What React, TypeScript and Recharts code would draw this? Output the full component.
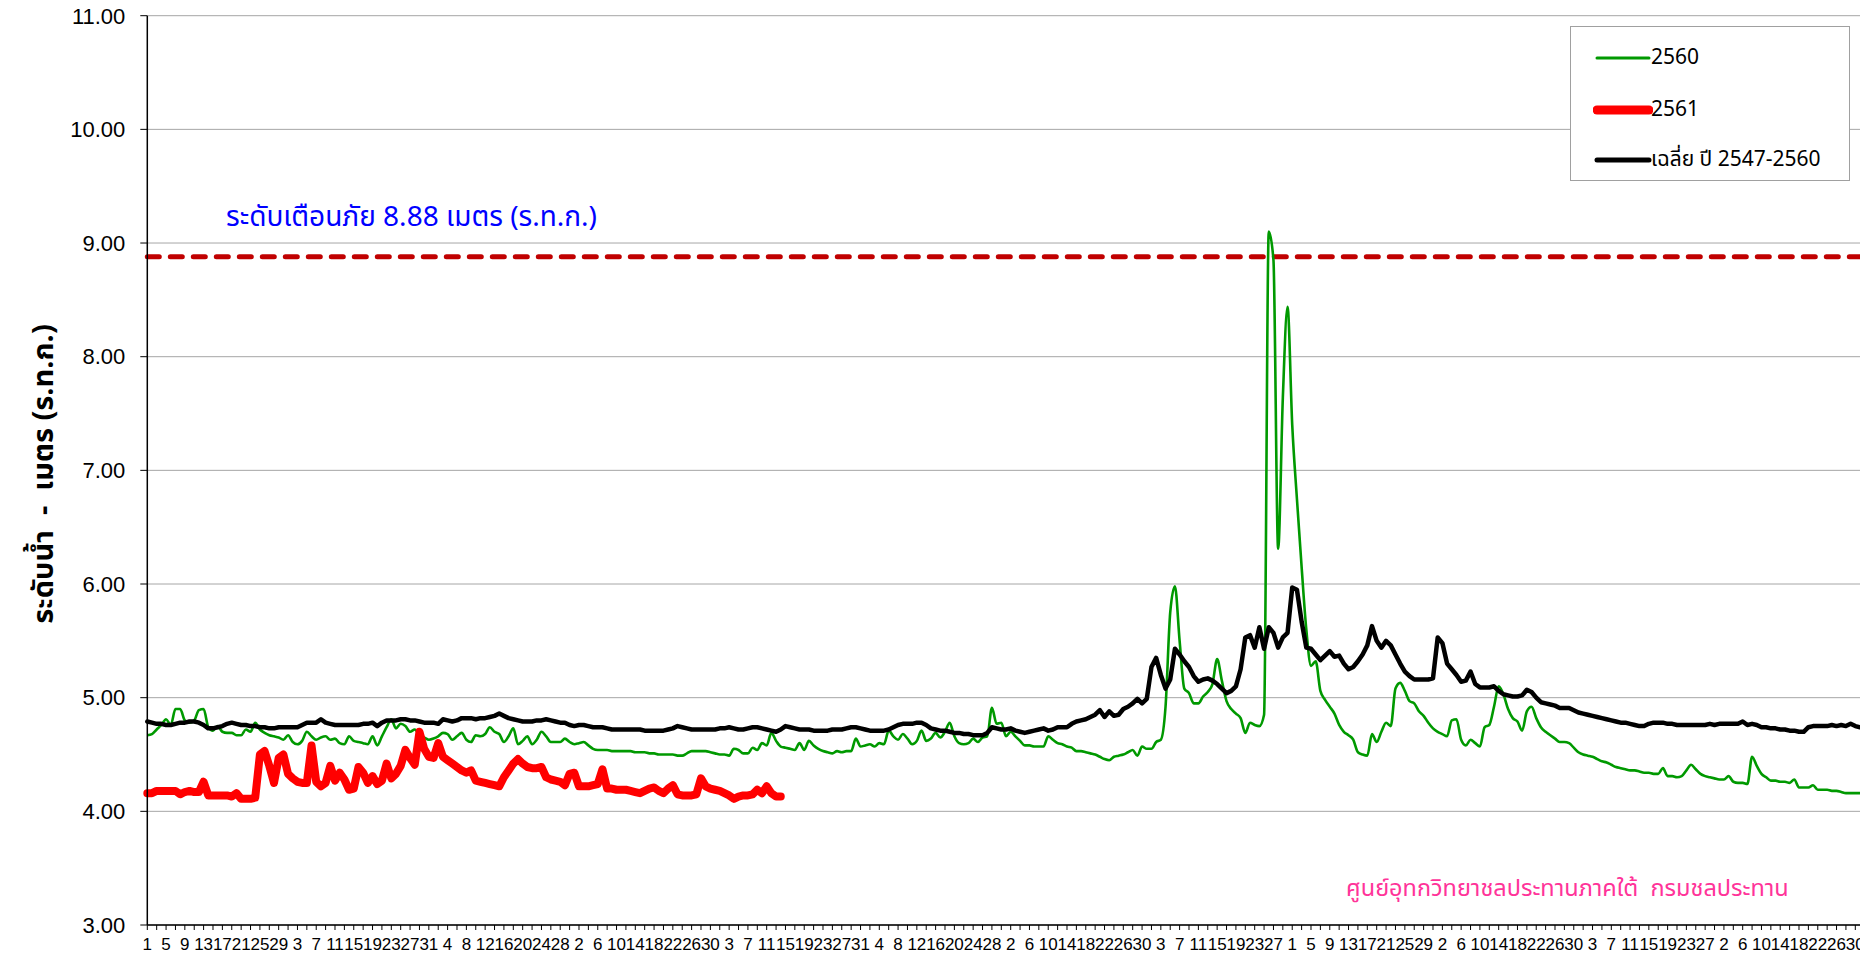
import React from 'react';
import { LineChart, Line, XAxis, YAxis, CartesianGrid, ReferenceLine } from 'recharts';

// Water year: April .. March (366 days incl. 29 Feb)
const monthLengths = [30, 31, 30, 31, 31, 30, 31, 30, 31, 31, 29, 31];
const dayLabels: string[] = [];
monthLengths.forEach((n) => {
  for (let d = 1; d <= n; d++) dayLabels.push(String(d));
});

const level2560 = [
  4.67,4.68,4.72,4.76,4.81,4.76,4.90,4.90,4.80,4.78,
  4.80,4.89,4.90,4.74,4.71,4.75,4.70,4.69,4.69,4.67,
  4.67,4.72,4.70,4.78,4.72,4.69,4.67,4.66,4.65,4.63,
  4.67,4.61,4.59,4.62,4.70,4.66,4.63,4.65,4.66,4.63,
  4.64,4.60,4.59,4.66,4.62,4.61,4.60,4.59,4.66,4.58,
  4.66,4.74,4.81,4.73,4.77,4.75,4.70,4.72,4.67,4.65,
  4.63,4.64,4.66,4.69,4.68,4.63,4.66,4.69,4.63,4.61,
  4.67,4.66,4.68,4.74,4.70,4.68,4.61,4.66,4.73,4.59,
  4.62,4.66,4.59,4.63,4.70,4.66,4.61,4.61,4.61,4.64,
  4.61,4.59,4.60,4.61,4.58,4.55,4.54,4.54,4.54,4.53,
  4.53,4.53,4.53,4.53,4.52,4.52,4.52,4.51,4.51,4.50,
  4.50,4.50,4.50,4.49,4.49,4.51,4.53,4.53,4.53,4.53,
  4.52,4.51,4.50,4.50,4.49,4.55,4.54,4.51,4.51,4.56,
  4.54,4.60,4.58,4.69,4.62,4.57,4.56,4.55,4.54,4.60,
  4.54,4.62,4.58,4.55,4.53,4.52,4.51,4.53,4.52,4.53,
  4.53,4.64,4.57,4.58,4.59,4.57,4.60,4.59,4.71,4.66,
  4.63,4.68,4.64,4.59,4.62,4.71,4.62,4.64,4.69,4.65,
  4.70,4.78,4.66,4.60,4.59,4.60,4.64,4.61,4.65,4.66,
  4.91,4.77,4.78,4.66,4.70,4.66,4.62,4.58,4.58,4.57,
  4.57,4.57,4.66,4.63,4.60,4.59,4.57,4.56,4.53,4.53,
  4.52,4.51,4.50,4.48,4.46,4.45,4.48,4.49,4.50,4.52,
  4.54,4.49,4.57,4.55,4.55,4.61,4.63,4.92,5.75,5.98,
  5.50,5.08,5.04,4.95,4.95,5.01,5.05,5.12,5.34,5.15,
  4.97,4.90,4.86,4.82,4.69,4.78,4.76,4.75,4.85,9.10,
  8.85,6.31,7.64,8.44,7.40,6.75,6.15,5.60,5.28,5.32,
  5.06,4.98,4.92,4.86,4.76,4.70,4.67,4.63,4.52,4.50,
  4.49,4.68,4.61,4.70,4.78,4.75,5.08,5.13,5.06,4.97,
  4.95,4.88,4.84,4.78,4.73,4.70,4.68,4.66,4.80,4.81,
  4.63,4.58,4.63,4.60,4.57,4.74,4.76,4.92,5.10,5.03,
  4.90,4.82,4.79,4.71,4.88,4.92,4.82,4.74,4.70,4.67,
  4.64,4.61,4.61,4.60,4.56,4.52,4.50,4.49,4.48,4.46,
  4.44,4.43,4.41,4.39,4.38,4.37,4.36,4.36,4.35,4.34,
  4.34,4.33,4.33,4.38,4.31,4.31,4.30,4.31,4.36,4.41,
  4.37,4.33,4.31,4.30,4.29,4.28,4.28,4.31,4.26,4.25,
  4.25,4.24,4.48,4.40,4.33,4.30,4.27,4.27,4.26,4.26,
  4.25,4.28,4.21,4.21,4.21,4.23,4.19,4.19,4.19,4.18,
  4.18,4.17,4.16,4.16,4.16,4.16,
];

const level2561 = [
  4.16,4.16,4.18,4.18,4.18,4.18,4.18,4.15,4.17,4.18,
  4.17,4.17,4.26,4.14,4.14,4.14,4.14,4.14,4.13,4.16,
  4.11,4.11,4.11,4.12,4.50,4.53,4.40,4.25,4.47,4.50,
  4.33,4.29,4.26,4.25,4.25,4.58,4.26,4.22,4.25,4.40,
  4.27,4.34,4.28,4.19,4.20,4.39,4.34,4.25,4.31,4.24,
  4.27,4.42,4.29,4.33,4.40,4.54,4.47,4.41,4.70,4.55,
  4.48,4.47,4.60,4.48,4.45,4.42,4.39,4.36,4.34,4.36,
  4.27,4.26,4.25,4.24,4.23,4.22,4.30,4.36,4.42,4.46,
  4.42,4.39,4.38,4.38,4.39,4.30,4.28,4.27,4.26,4.23,
  4.33,4.34,4.22,4.22,4.22,4.23,4.24,4.37,4.20,4.20,
  4.19,4.19,4.19,4.18,4.17,4.16,4.18,4.20,4.21,4.18,
  4.16,4.20,4.23,4.15,4.14,4.14,4.14,4.15,4.29,4.22,
  4.20,4.19,4.18,4.16,4.14,4.11,4.13,4.14,4.14,4.15,
  4.19,4.16,4.22,4.16,4.13,4.13,
];

const levelAvg = [
  4.79,4.78,4.77,4.77,4.76,4.76,4.77,4.78,4.78,4.79,
  4.79,4.78,4.76,4.73,4.73,4.74,4.75,4.77,4.78,4.77,
  4.76,4.76,4.75,4.75,4.74,4.74,4.73,4.73,4.74,4.74,
  4.74,4.74,4.74,4.76,4.78,4.78,4.78,4.81,4.78,4.77,
  4.76,4.76,4.76,4.76,4.76,4.76,4.77,4.77,4.78,4.75,
  4.78,4.80,4.80,4.80,4.81,4.81,4.80,4.80,4.79,4.78,
  4.78,4.78,4.77,4.81,4.80,4.79,4.80,4.82,4.82,4.82,
  4.81,4.82,4.82,4.83,4.84,4.86,4.84,4.82,4.81,4.80,
  4.79,4.79,4.79,4.80,4.80,4.81,4.80,4.79,4.78,4.78,
  4.76,4.75,4.76,4.76,4.75,4.74,4.74,4.74,4.73,4.72,
  4.72,4.72,4.72,4.72,4.72,4.72,4.71,4.71,4.71,4.71,
  4.71,4.72,4.73,4.75,4.74,4.73,4.72,4.72,4.72,4.72,
  4.72,4.72,4.73,4.73,4.74,4.73,4.72,4.72,4.73,4.74,
  4.74,4.73,4.72,4.71,4.70,4.72,4.75,4.74,4.73,4.72,
  4.72,4.72,4.71,4.71,4.71,4.71,4.72,4.72,4.72,4.73,
  4.74,4.74,4.73,4.72,4.71,4.71,4.71,4.71,4.72,4.74,
  4.76,4.77,4.77,4.77,4.78,4.78,4.76,4.73,4.72,4.71,
  4.71,4.70,4.69,4.69,4.68,4.68,4.67,4.67,4.67,4.69,
  4.74,4.73,4.72,4.72,4.73,4.71,4.70,4.69,4.70,4.71,
  4.72,4.73,4.71,4.72,4.74,4.74,4.74,4.77,4.79,4.80,
  4.81,4.83,4.85,4.89,4.83,4.88,4.84,4.85,4.90,4.92,
  4.95,4.99,4.95,4.99,5.27,5.35,5.20,5.08,5.16,5.43,
  5.38,5.32,5.27,5.19,5.14,5.16,5.17,5.15,5.12,5.08,
  5.04,5.06,5.10,5.25,5.53,5.55,5.44,5.62,5.43,5.62,
  5.57,5.44,5.53,5.57,5.97,5.95,5.67,5.44,5.43,5.38,
  5.33,5.37,5.41,5.36,5.37,5.30,5.25,5.27,5.32,5.38,
  5.46,5.63,5.50,5.44,5.50,5.46,5.38,5.30,5.23,5.19,
  5.16,5.16,5.16,5.16,5.17,5.53,5.48,5.30,5.25,5.20,
  5.14,5.15,5.23,5.12,5.09,5.09,5.09,5.10,5.06,5.03,
  5.02,5.01,5.01,5.02,5.07,5.05,5.00,4.96,4.95,4.94,
  4.93,4.91,4.91,4.91,4.89,4.87,4.86,4.85,4.84,4.83,
  4.82,4.81,4.80,4.79,4.78,4.78,4.77,4.76,4.75,4.75,
  4.77,4.78,4.78,4.78,4.77,4.77,4.76,4.76,4.76,4.76,
  4.76,4.76,4.76,4.77,4.76,4.77,4.77,4.77,4.77,4.77,
  4.79,4.76,4.77,4.76,4.74,4.74,4.73,4.73,4.72,4.72,
  4.71,4.71,4.70,4.70,4.74,4.75,4.75,4.75,4.75,4.76,
  4.75,4.76,4.75,4.77,4.75,4.74,
];

const warningLevel = 8.88;
const yTicks = [3, 4, 5, 6, 7, 8, 9, 10, 11];
const seriesNames = ['2560', '2561', 'เฉลี่ย ปี 2547-2560'];
const warningText = 'ระดับเตือนภัย 8.88 เมตร (ร.ท.ก.)';
const yAxisTitle = 'ระดับน้ำ  -  เมตร (ร.ท.ก.)';
const footerText = 'ศูนย์อุทกวิทยาชลประทานภาคใต้  กรมชลประทาน';

const data = dayLabels.map((label, i) => ({
  i,
  label,
  y2560: level2560[i],
  y2561: i < level2561.length ? level2561[i] : null,
  avg: levelAvg[i],
}));

const xTicks = data.filter((d) => d.i % 2 === 0).map((d) => d.i);

const NUM_FONT = "'Liberation Sans', Arial, sans-serif";
const THAI_FONT = "'Noto Sans Thai', 'Noto Sans', 'Liberation Sans', sans-serif";

const W = 1868;
const H = 953;

export default function App() {
  return (
    <div style={{ position: 'relative', width: W, height: H, marginTop: -8, marginLeft: -8, background: '#fff' }}>
      <LineChart
        width={W}
        height={H}
        data={data}
        margin={{ top: 15.7, right: 8, bottom: 0, left: 0 }}
      >
        <CartesianGrid horizontal vertical={false} stroke="#A6A6A6" strokeWidth={1} />
        <XAxis
          dataKey="i"
          type="category"
          ticks={xTicks}
          interval={0}
          height={28}
          tickSize={5}
          tickMargin={8}
          tickFormatter={(v: number) => (v % 4 === 0 ? dayLabels[v] : '')}
          tick={{ fontSize: 17, fill: '#000', fontFamily: NUM_FONT }}
          axisLine={{ stroke: '#000', strokeWidth: 1.5 }}
          tickLine={{ stroke: '#000' }}
        />
        <XAxis
          xAxisId="top"
          orientation="top"
          dataKey="i"
          type="category"
          height={0}
          tick={false}
          tickLine={false}
          axisLine={{ stroke: '#000', strokeWidth: 1.5 }}
        />
        <YAxis
          type="number"
          domain={[3, 11]}
          ticks={yTicks}
          interval={0}
          allowDataOverflow
          width={147.3}
          tickSize={7}
          tickMargin={15}
          tickFormatter={(v: number) => v.toFixed(2)}
          tick={{ fontSize: 22, fill: '#000', fontFamily: NUM_FONT }}
          axisLine={{ stroke: '#000', strokeWidth: 1.5 }}
          tickLine={{ stroke: '#000' }}
        />
        <YAxis
          yAxisId="right"
          orientation="right"
          type="number"
          domain={[3, 11]}
          width={0}
          tick={false}
          tickLine={false}
          axisLine={{ stroke: '#000', strokeWidth: 1.5 }}
        />
        <ReferenceLine
          y={warningLevel}
          stroke="#C00000"
          strokeWidth={5}
          strokeDasharray="12 11"
          strokeLinecap="round"
        />
        <Line
          dataKey="y2560"
          name={seriesNames[0]}
          type="monotone"
          stroke="#009900"
          strokeWidth={2.6}
          dot={false}
          activeDot={false}
          isAnimationActive={false}
        />
        <Line
          dataKey="y2561"
          name={seriesNames[1]}
          type="linear"
          stroke="#FF0000"
          strokeWidth={8}
          strokeLinejoin="round"
          strokeLinecap="round"
          dot={false}
          activeDot={false}
          connectNulls={false}
          isAnimationActive={false}
        />
        <Line
          dataKey="avg"
          name={seriesNames[2]}
          type="linear"
          stroke="#000000"
          strokeWidth={4.5}
          strokeLinejoin="round"
          strokeLinecap="round"
          dot={false}
          activeDot={false}
          isAnimationActive={false}
        />
      </LineChart>

      {/* Legend */}
      <div
        style={{
          position: 'absolute',
          left: 1570,
          top: 26,
          width: 280,
          height: 155,
          border: '1px solid #A0A0A0',
          background: '#fff',
          boxSizing: 'border-box',
        }}
      >
        {[
          { name: seriesNames[0], color: '#009900', w: 3, top: 31 },
          { name: seriesNames[1], color: '#FF0000', w: 9, top: 83 },
          { name: seriesNames[2], color: '#000000', w: 5, top: 133 },
        ].map((it) => (
          <div key={it.name} style={{ position: 'absolute', left: 0, top: it.top - 15, height: 30, width: 280 }}>
            <svg width={60} height={30} style={{ position: 'absolute', left: 22, top: 0 }}>
              <line x1={4} y1={15} x2={56} y2={15} stroke={it.color} strokeWidth={it.w} strokeLinecap="round" />
            </svg>
            <span
              style={{
                position: 'absolute',
                left: 80,
                top: 0,
                lineHeight: '30px',
                fontSize: 21,
                fontFamily: THAI_FONT,
                color: '#000',
                whiteSpace: 'nowrap',
              }}
            >
              {it.name}
            </span>
          </div>
        ))}
      </div>

      {/* Warning label */}
      <div
        style={{
          position: 'absolute',
          left: 226,
          top: 198,
          fontSize: 28,
          lineHeight: '40px',
          color: '#0000FF',
          fontFamily: THAI_FONT,
          whiteSpace: 'nowrap',
        }}
      >
        {warningText}
      </div>

      {/* Y axis title */}
      <div
        style={{
          position: 'absolute',
          left: 44,
          top: 474,
          transform: 'translate(-50%, -50%) rotate(-90deg)',
          fontSize: 29,
          fontWeight: 'bold',
          color: '#000',
          fontFamily: THAI_FONT,
          whiteSpace: 'pre',
        }}
      >
        {yAxisTitle}
      </div>

      {/* Footer */}
      <div
        style={{
          position: 'absolute',
          left: 1346,
          top: 872,
          fontSize: 23.5,
          lineHeight: '34px',
          color: '#FF3399',
          fontFamily: THAI_FONT,
          whiteSpace: 'pre',
        }}
      >
        {footerText}
      </div>
    </div>
  );
}
